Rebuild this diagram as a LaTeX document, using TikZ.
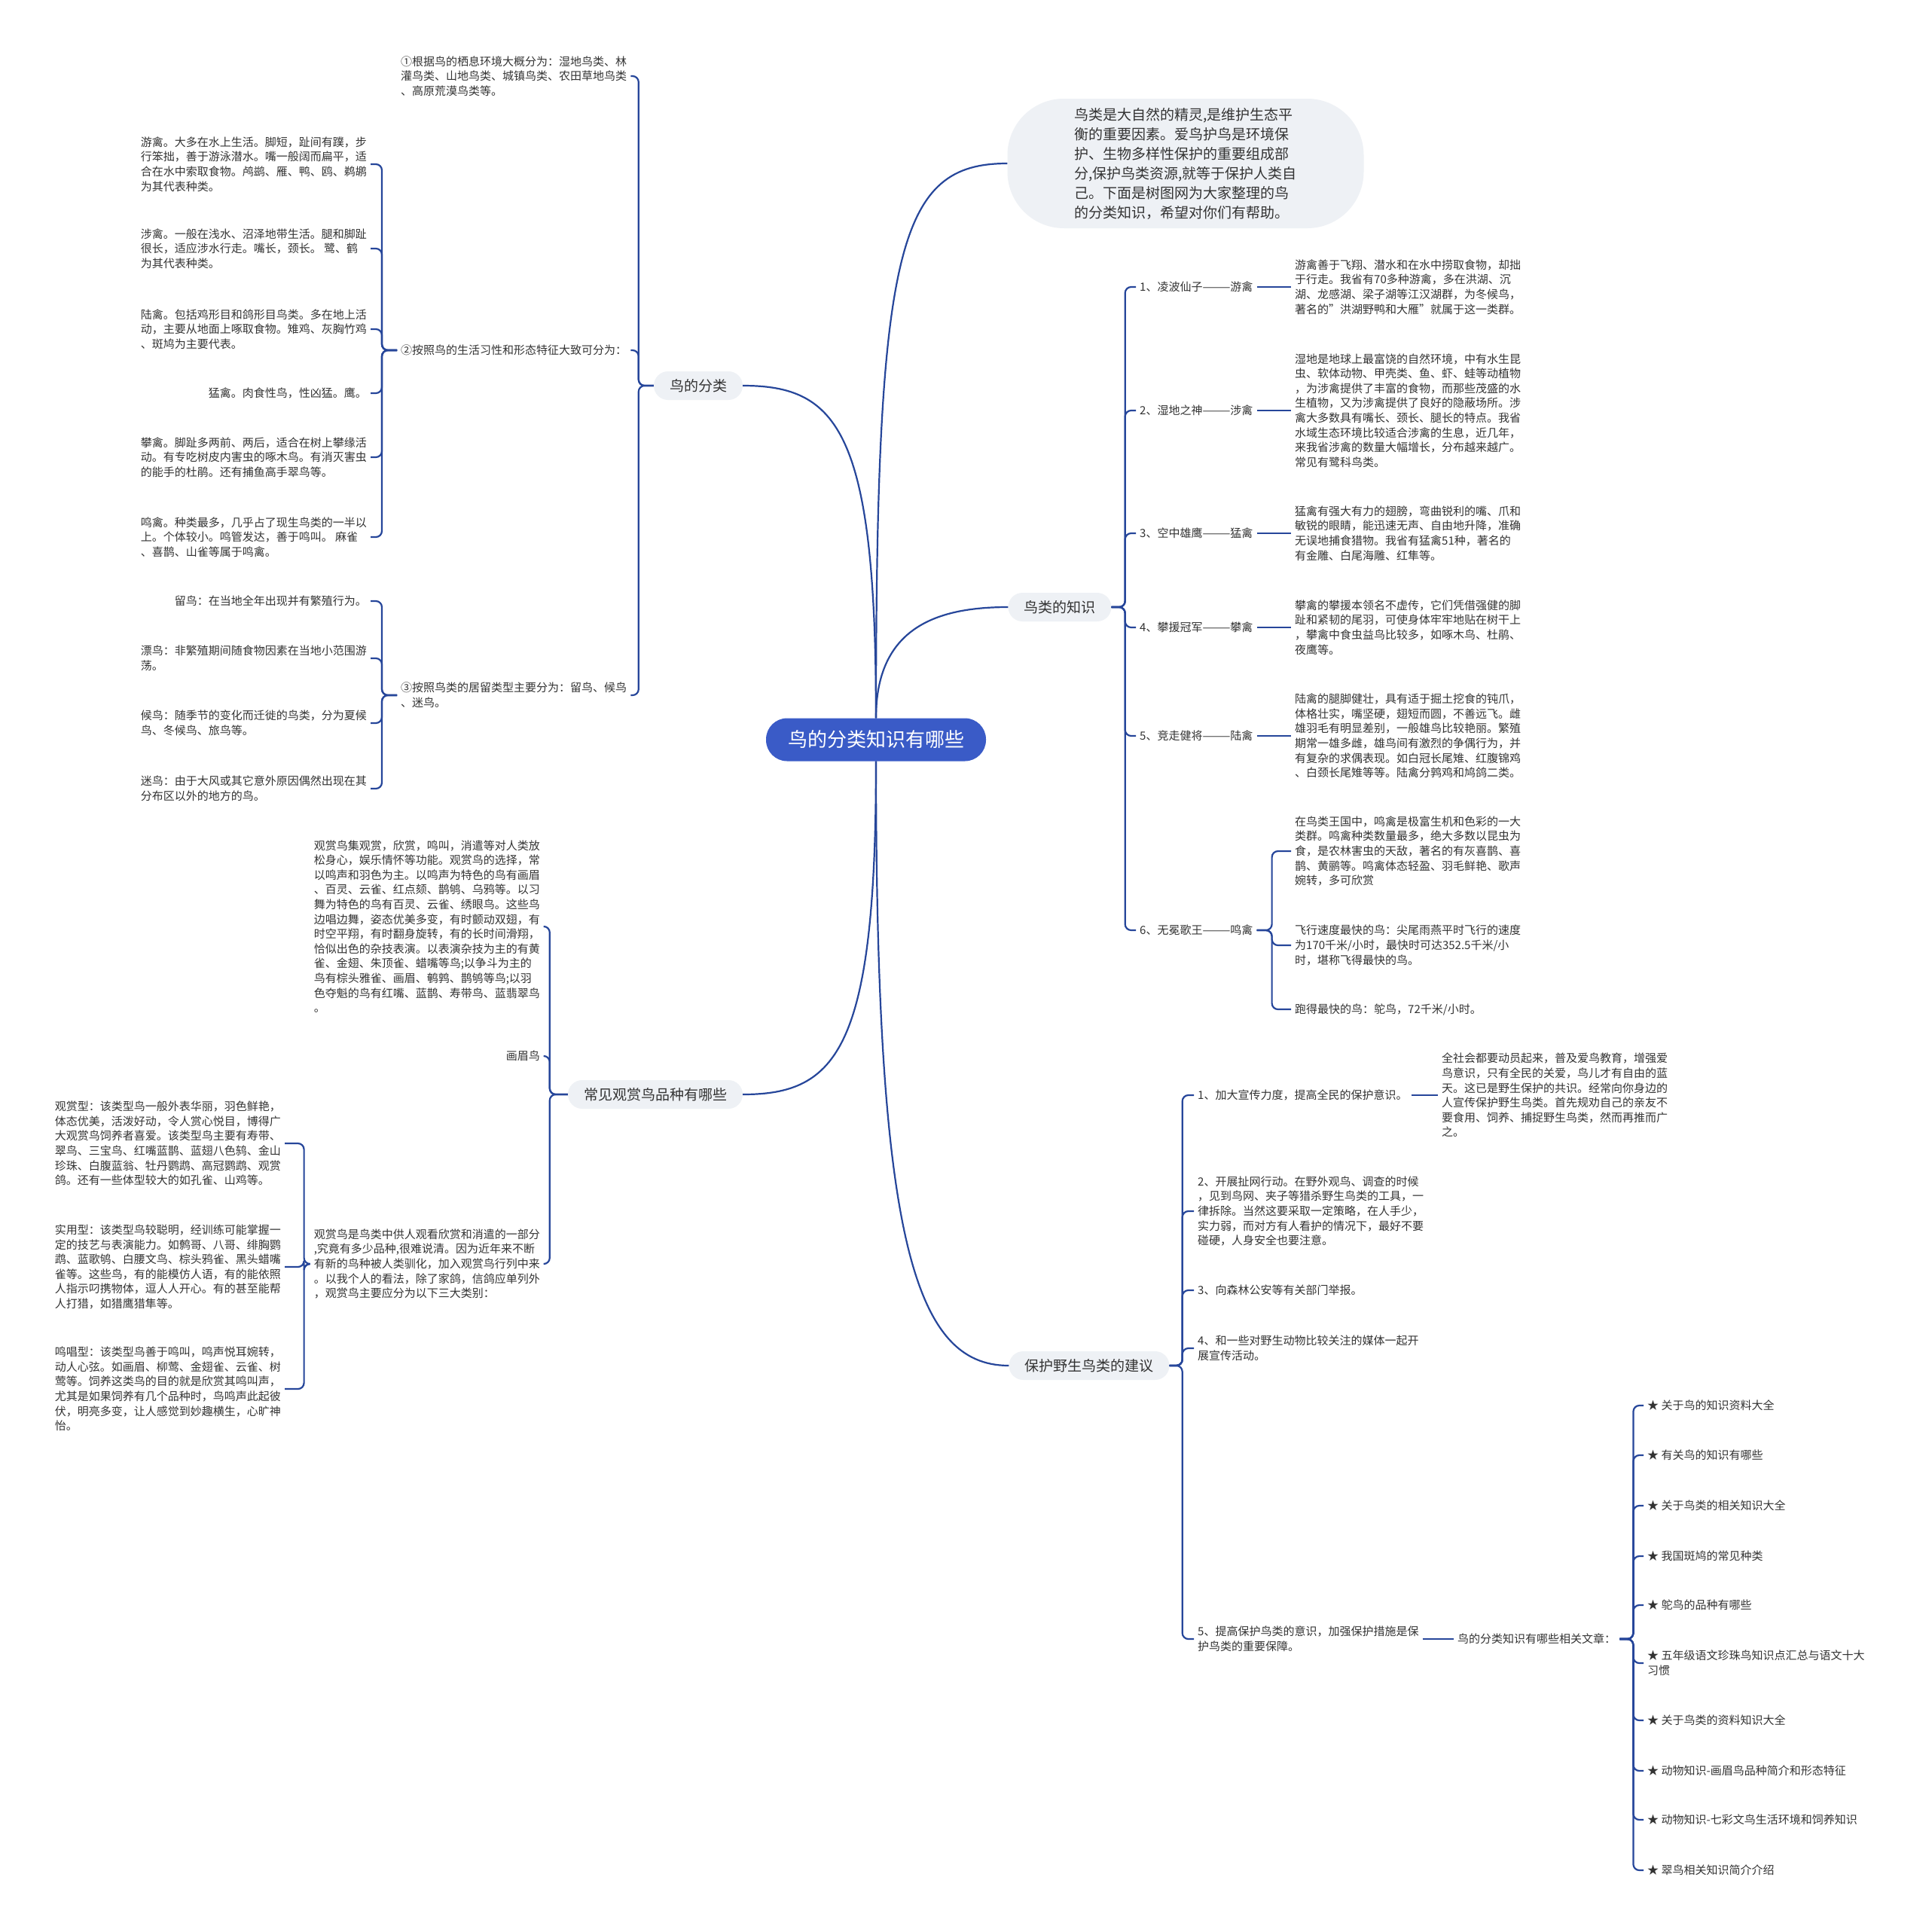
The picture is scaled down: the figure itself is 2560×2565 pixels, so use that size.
\documentclass[tikz,border=0pt]{standalone}
\usepackage{fontspec}
\setmainfont{Noto Sans CJK SC}
\definecolor{rootblue}{HTML}{3A5BC7}
\definecolor{linkblue}{HTML}{26469A}
\definecolor{boxgray}{HTML}{EEF1F5}
\definecolor{txtgray}{HTML}{333333}
\newcommand{\rootfont}{\fontsize{26}{32}\selectfont}
\newcommand{\branchfont}{\fontsize{19}{24}\selectfont}
\newcommand{\introfont}{\fontsize{19}{26}\selectfont}
\newcommand{\leaffont}{\fontsize{15}{19.6}\selectfont}
\newcommand{\dq}{\symbol{34}}
\tikzset{
    rootnode/.style = {fill=rootblue, rounded corners=28pt, text=white,
        font=\rootfont, minimum height=57pt, inner xsep=29pt},
    branchbox/.style = {fill=boxgray, rounded corners=19pt, text=txtgray,
        font=\branchfont, minimum height=38pt, inner xsep=21pt},
    introbox/.style = {fill=boxgray, rounded corners=75pt, text=txtgray,
        font=\introfont, minimum width=473pt, minimum height=172pt, align=left},
    leaftext/.style = {text=txtgray, font=\leaffont, align=left, inner sep=5pt},
    conn/.style = {draw=linkblue, line width=2.2pt, rounded corners=8pt}
}

\begin{document}
\begin{tikzpicture}[x=1pt,y=-1pt]
    \fill[white] (0,0) rectangle (2560,2565);
    \useasboundingbox (0,0) rectangle (2560,2565);

    \node [rootnode] (root) at (1163,982) {鸟的分类知识有哪些};
    \node [introbox] (intro) at (1574,217) {鸟类是大自然的精灵,是维护生态平\\衡的重要因素。爱鸟护鸟是环境保\\护、生物多样性保护的重要组成部\\分,保护鸟类资源,就等于保护人类自\\己。下面是树图网为大家整理的鸟\\的分类知识，希望对你们有帮助。};
    \node [branchbox] (cls) at (927,512) {鸟的分类};
    \node [branchbox] (kn) at (1407,806) {鸟类的知识};
    \node [branchbox] (orn) at (870,1453) {常见观赏鸟品种有哪些};
    \node [branchbox] (prot) at (1446,1813) {保护野生鸟类的建议};

    \draw [conn] (root.north) .. controls +(0,-627) and +(-144,0) .. (intro.west);
    \draw [conn] (root.north) .. controls +(0,-381) and +(126,0) .. (cls.east);
    \draw [conn] (root.north) .. controls +(0,-120) and +(-95,0) .. (kn.west);
    \draw [conn] (root.south) .. controls +(0,381) and +(126,0) .. (orn.east);
    \draw [conn] (root.south) .. controls +(0,625) and +(-128,0) .. (prot.west);

    \node [leaftext, anchor=west] (habitat) at (527,101) {①根据鸟的栖息环境大概分为：湿地鸟类、林\\灌鸟类、山地鸟类、城镇鸟类、农田草地鸟类\\、高原荒漠鸟类等。};
    \node [leaftext, anchor=west] (habit) at (527,465) {②按照鸟的生活习性和形态特征大致可分为：};
    \node [leaftext, anchor=west] (stay) at (527,923) {③按照鸟类的居留类型主要分为：留鸟、候鸟\\、迷鸟。};
    \draw [conn] (cls.west) -- ++(-20,0) |- (habitat.east);
    \draw [conn] (cls.west) -- ++(-20,0) |- (habit.east);
    \draw [conn] (cls.west) -- ++(-20,0) |- (stay.east);

    \node [leaftext, anchor=east] (swim) at (492,218) {游禽。大多在水上生活。脚短，趾间有蹼，步\\行笨拙，善于游泳潜水。嘴一般阔而扁平，适\\合在水中索取食物。鸬鹚、雁、鸭、鸥、鹈鹕\\为其代表种类。};
    \node [leaftext, anchor=east] (wade) at (492,330) {涉禽。一般在浅水、沼泽地带生活。腿和脚趾\\很长，适应涉水行走。嘴长，颈长。 鹭、鹤\\为其代表种类。};
    \node [leaftext, anchor=east] (land) at (492,437) {陆禽。包括鸡形目和鸽形目鸟类。多在地上活\\动，主要从地面上啄取食物。雉鸡、灰胸竹鸡\\、斑鸠为主要代表。};
    \node [leaftext, anchor=east] (prey) at (492,522) {猛禽。肉食性鸟，性凶猛。鹰。};
    \node [leaftext, anchor=east] (climb) at (492,607) {攀禽。脚趾多两前、两后，适合在树上攀缘活\\动。有专吃树皮内害虫的啄木鸟。有消灭害虫\\的能手的杜鹃。还有捕鱼高手翠鸟等。};
    \node [leaftext, anchor=east] (sing) at (492,713) {鸣禽。种类最多，几乎占了现生鸟类的一半以\\上。个体较小。鸣管发达，善于鸣叫。 麻雀\\、喜鹊、山雀等属于鸣禽。};
    \draw [conn] (habit.west) -- ++(-20,0) |- (swim.east);
    \draw [conn] (habit.west) -- ++(-20,0) |- (wade.east);
    \draw [conn] (habit.west) -- ++(-20,0) |- (land.east);
    \draw [conn] (habit.west) -- ++(-20,0) |- (prey.east);
    \draw [conn] (habit.west) -- ++(-20,0) |- (climb.east);
    \draw [conn] (habit.west) -- ++(-20,0) |- (sing.east);

    \node [leaftext, anchor=east] (resid) at (492,798) {留鸟：在当地全年出现并有繁殖行为。};
    \node [leaftext, anchor=east] (drift) at (492,874) {漂鸟：非繁殖期间随食物因素在当地小范围游\\荡。};
    \node [leaftext, anchor=east] (migr) at (492,960) {候鸟：随季节的变化而迁徙的鸟类，分为夏候\\鸟、冬候鸟、旅鸟等。};
    \node [leaftext, anchor=east] (stray) at (492,1047) {迷鸟：由于大风或其它意外原因偶然出现在其\\分布区以外的地方的鸟。};
    \draw [conn] (stay.west) -- ++(-20,0) |- (resid.east);
    \draw [conn] (stay.west) -- ++(-20,0) |- (drift.east);
    \draw [conn] (stay.west) -- ++(-20,0) |- (migr.east);
    \draw [conn] (stay.west) -- ++(-20,0) |- (stray.east);

    \node [leaftext, anchor=east] (ornA) at (722,1230) {观赏鸟集观赏，欣赏，鸣叫，消遣等对人类放\\松身心，娱乐情怀等功能。观赏鸟的选择，常\\以鸣声和羽色为主。以鸣声为特色的鸟有画眉\\、百灵、云雀、红点颏、鹊鸲、乌鸦等。以习\\舞为特色的鸟有百灵、云雀、绣眼鸟。这些鸟\\边唱边舞，姿态优美多变，有时颤动双翅，有\\时空平翔，有时翻身旋转，有的长时间滑翔，\\恰似出色的杂技表演。以表演杂技为主的有黄\\雀、金翅、朱顶雀、蜡嘴等鸟;以争斗为主的\\鸟有棕头雅雀、画眉、鹌鹑、鹊鸲等鸟;以羽\\色夺魁的鸟有红嘴、蓝鹊、寿带鸟、蓝翡翠鸟\\。};
    \node [leaftext, anchor=east] (huamei) at (722,1402) {画眉鸟};
    \node [leaftext, anchor=east] (ornB) at (722,1678) {观赏鸟是鸟类中供人观看欣赏和消遣的一部分\\,究竟有多少品种,很难说清。因为近年来不断\\有新的鸟种被人类驯化，加入观赏鸟行列中来\\。以我个人的看法，除了家鸽，信鸽应单列外\\，观赏鸟主要应分为以下三大类别：};
    \draw [conn] (orn.west) -- ++(-24,0) |- (ornA.east);
    \draw [conn] (orn.west) -- ++(-24,0) |- (huamei.east);
    \draw [conn] (orn.west) -- ++(-24,0) |- (ornB.east);

    \node [leaftext, anchor=east] (view) at (378,1518) {观赏型：该类型鸟一般外表华丽，羽色鲜艳，\\体态优美，活泼好动，令人赏心悦目，博得广\\大观赏鸟饲养者喜爱。该类型鸟主要有寿带、\\翠鸟、三宝鸟、红嘴蓝鹊、蓝翅八色鸫、金山\\珍珠、白腹蓝翁、牡丹鹦鹉、高冠鹦鹉、观赏\\鸽。还有一些体型较大的如孔雀、山鸡等。};
    \node [leaftext, anchor=east] (useful) at (378,1682) {实用型：该类型鸟较聪明，经训练可能掌握一\\定的技艺与表演能力。如鹩哥、八哥、绯胸鹦\\鹉、蓝歌鸲、白腰文鸟、棕头鸦雀、黑头蜡嘴\\雀等。这些鸟，有的能模仿人语，有的能依照\\人指示叼携物体，逗人人开心。有的甚至能帮\\人打猎，如猎鹰猎隼等。};
    \node [leaftext, anchor=east] (song) at (378,1844) {鸣唱型：该类型鸟善于鸣叫，鸣声悦耳婉转，\\动人心弦。如画眉、柳莺、金翅雀、云雀、树\\莺等。饲养这类鸟的目的就是欣赏其鸣叫声，\\尤其是如果饲养有几个品种时，鸟鸣声此起彼\\伏，明亮多变，让人感觉到妙趣横生，心旷神\\怡。};
    \draw [conn] (ornB.west) -- ++(-8,0) |- (view.east);
    \draw [conn] (ornB.west) -- ++(-8,0) |- (useful.east);
    \draw [conn] (ornB.west) -- ++(-8,0) |- (song.east);

    \node [leaftext, anchor=west] (k1) at (1508,381) {1、凌波仙子———游禽};
    \node [leaftext, anchor=west] (k2) at (1508,545) {2、湿地之神———涉禽};
    \node [leaftext, anchor=west] (k3) at (1508,708) {3、空中雄鹰———猛禽};
    \node [leaftext, anchor=west] (k4) at (1508,833) {4、攀援冠军———攀禽};
    \node [leaftext, anchor=west] (k5) at (1508,977) {5、竞走健将———陆禽};
    \node [leaftext, anchor=west] (k6) at (1508,1235) {6、无冕歌王———鸣禽};
    \draw [conn] (kn.east) -- ++(18,0) |- (k1.west);
    \draw [conn] (kn.east) -- ++(18,0) |- (k2.west);
    \draw [conn] (kn.east) -- ++(18,0) |- (k3.west);
    \draw [conn] (kn.east) -- ++(18,0) |- (k4.west);
    \draw [conn] (kn.east) -- ++(18,0) |- (k5.west);
    \draw [conn] (kn.east) -- ++(18,0) |- (k6.west);

    \node [leaftext, anchor=west] (k1d) at (1714,381) {游禽善于飞翔、潜水和在水中捞取食物，却拙\\于行走。我省有70多种游禽，多在洪湖、沉\\湖、龙感湖、梁子湖等江汉湖群，为冬候鸟，\\著名的\dq 洪湖野鸭和大雁\dq 就属于这一类群。};
    \node [leaftext, anchor=west] (k2d) at (1714,545) {湿地是地球上最富饶的自然环境，中有水生昆\\虫、软体动物、甲壳类、鱼、虾、蛙等动植物\\，为涉禽提供了丰富的食物，而那些茂盛的水\\生植物，又为涉禽提供了良好的隐蔽场所。涉\\禽大多数具有嘴长、颈长、腿长的特点。我省\\水域生态环境比较适合涉禽的生息，近几年，\\来我省涉禽的数量大幅增长，分布越来越广。\\常见有鹭科鸟类。};
    \node [leaftext, anchor=west] (k3d) at (1714,708) {猛禽有强大有力的翅膀，弯曲锐利的嘴、爪和\\敏锐的眼睛，能迅速无声、自由地升降，准确\\无误地捕食猎物。我省有猛禽51种，著名的\\有金雕、白尾海雕、红隼等。};
    \node [leaftext, anchor=west] (k4d) at (1714,833) {攀禽的攀援本领名不虚传，它们凭借强健的脚\\趾和紧韧的尾羽，可使身体牢牢地贴在树干上\\，攀禽中食虫益鸟比较多，如啄木鸟、杜鹃、\\夜鹰等。};
    \node [leaftext, anchor=west] (k5d) at (1714,977) {陆禽的腿脚健壮，具有适于掘土挖食的钝爪，\\体格壮实，嘴坚硬，翅短而圆，不善远飞。雌\\雄羽毛有明显差别，一般雄鸟比较艳丽。繁殖\\期常一雄多雌，雄鸟间有激烈的争偶行为，并\\有复杂的求偶表现。如白冠长尾雉、红腹锦鸡\\、白颈长尾雉等等。陆禽分鹑鸡和鸠鸽二类。};
    \draw [conn] (k1.east) -- (k1d.west);
    \draw [conn] (k2.east) -- (k2d.west);
    \draw [conn] (k3.east) -- (k3d.west);
    \draw [conn] (k4.east) -- (k4d.west);
    \draw [conn] (k5.east) -- (k5d.west);

    \node [leaftext, anchor=west] (k6a) at (1714,1130) {在鸟类王国中，鸣禽是极富生机和色彩的一大\\类群。鸣禽种类数量最多，绝大多数以昆虫为\\食，是农林害虫的天敌，著名的有灰喜鹊、喜\\鹊、黄鹂等。鸣禽体态轻盈、羽毛鲜艳、歌声\\婉转，多可欣赏};
    \node [leaftext, anchor=west] (k6b) at (1714,1255) {飞行速度最快的鸟：尖尾雨燕平时飞行的速度\\为170千米/小时，最快时可达352.5千米/小\\时，堪称飞得最快的鸟。};
    \node [leaftext, anchor=west] (k6c) at (1714,1340) {跑得最快的鸟：鸵鸟，72千米/小时。};
    \draw [conn] (k6.east) -- ++(20,0) |- (k6a.west);
    \draw [conn] (k6.east) -- ++(20,0) |- (k6b.west);
    \draw [conn] (k6.east) -- ++(20,0) |- (k6c.west);

    \node [leaftext, anchor=west] (p1) at (1585,1454) {1、加大宣传力度，提高全民的保护意识。};
    \node [leaftext, anchor=west] (p2) at (1585,1608) {2、开展扯网行动。在野外观鸟、调查的时候\\，见到鸟网、夹子等猎杀野生鸟类的工具，一\\律拆除。当然这要采取一定策略，在人手少，\\实力弱，而对方有人看护的情况下，最好不要\\碰硬，人身安全也要注意。};
    \node [leaftext, anchor=west] (p3) at (1585,1713) {3、向森林公安等有关部门举报。};
    \node [leaftext, anchor=west] (p4) at (1585,1790) {4、和一些对野生动物比较关注的媒体一起开\\展宣传活动。};
    \node [leaftext, anchor=west] (p5) at (1585,2176) {5、提高保护鸟类的意识，加强保护措施是保\\护鸟类的重要保障。};
    \draw [conn] (prot.east) -- ++(17,0) |- (p1.west);
    \draw [conn] (prot.east) -- ++(17,0) |- (p2.west);
    \draw [conn] (prot.east) -- ++(17,0) |- (p3.west);
    \draw [conn] (prot.east) -- ++(17,0) |- (p4.west);
    \draw [conn] (prot.east) -- ++(17,0) |- (p5.west);

    \node [leaftext, anchor=west] (p1d) at (1909,1454) {全社会都要动员起来，普及爱鸟教育，增强爱\\鸟意识，只有全民的关爱，鸟儿才有自由的蓝\\天。这已是野生保护的共识。经常向你身边的\\人宣传保护野生鸟类。首先规劝自己的亲友不\\要食用、饲养、捕捉野生鸟类，然而再推而广\\之。};
    \node [leaftext, anchor=west] (p5d) at (1930,2176) {鸟的分类知识有哪些相关文章：};
    \draw [conn] (p1.east) -- (p1d.west);
    \draw [conn] (p5.east) -- (p5d.west);

    \node [leaftext, anchor=west] (a1) at (2182,1866) {★ 关于鸟的知识资料大全};
    \node [leaftext, anchor=west] (a2) at (2182,1932) {★ 有关鸟的知识有哪些};
    \node [leaftext, anchor=west] (a3) at (2182,1999) {★ 关于鸟类的相关知识大全};
    \node [leaftext, anchor=west] (a4) at (2182,2066) {★ 我国斑鸠的常见种类};
    \node [leaftext, anchor=west] (a5) at (2182,2131) {★ 鸵鸟的品种有哪些};
    \node [leaftext, anchor=west] (a6) at (2182,2208) {★ 五年级语文珍珠鸟知识点汇总与语文十大\\习惯};
    \node [leaftext, anchor=west] (a7) at (2182,2284) {★ 关于鸟类的资料知识大全};
    \node [leaftext, anchor=west] (a8) at (2182,2351) {★ 动物知识-画眉鸟品种简介和形态特征};
    \node [leaftext, anchor=west] (a9) at (2182,2416) {★ 动物知识-七彩文鸟生活环境和饲养知识};
    \node [leaftext, anchor=west] (a10) at (2182,2483) {★ 翠鸟相关知识简介介绍};
    \draw [conn] (p5d.east) -- ++(18,0) |- (a1.west);
    \draw [conn] (p5d.east) -- ++(18,0) |- (a2.west);
    \draw [conn] (p5d.east) -- ++(18,0) |- (a3.west);
    \draw [conn] (p5d.east) -- ++(18,0) |- (a4.west);
    \draw [conn] (p5d.east) -- ++(18,0) |- (a5.west);
    \draw [conn] (p5d.east) -- ++(18,0) |- (a6.west);
    \draw [conn] (p5d.east) -- ++(18,0) |- (a7.west);
    \draw [conn] (p5d.east) -- ++(18,0) |- (a8.west);
    \draw [conn] (p5d.east) -- ++(18,0) |- (a9.west);
    \draw [conn] (p5d.east) -- ++(18,0) |- (a10.west);
\end{tikzpicture}
\end{document}
